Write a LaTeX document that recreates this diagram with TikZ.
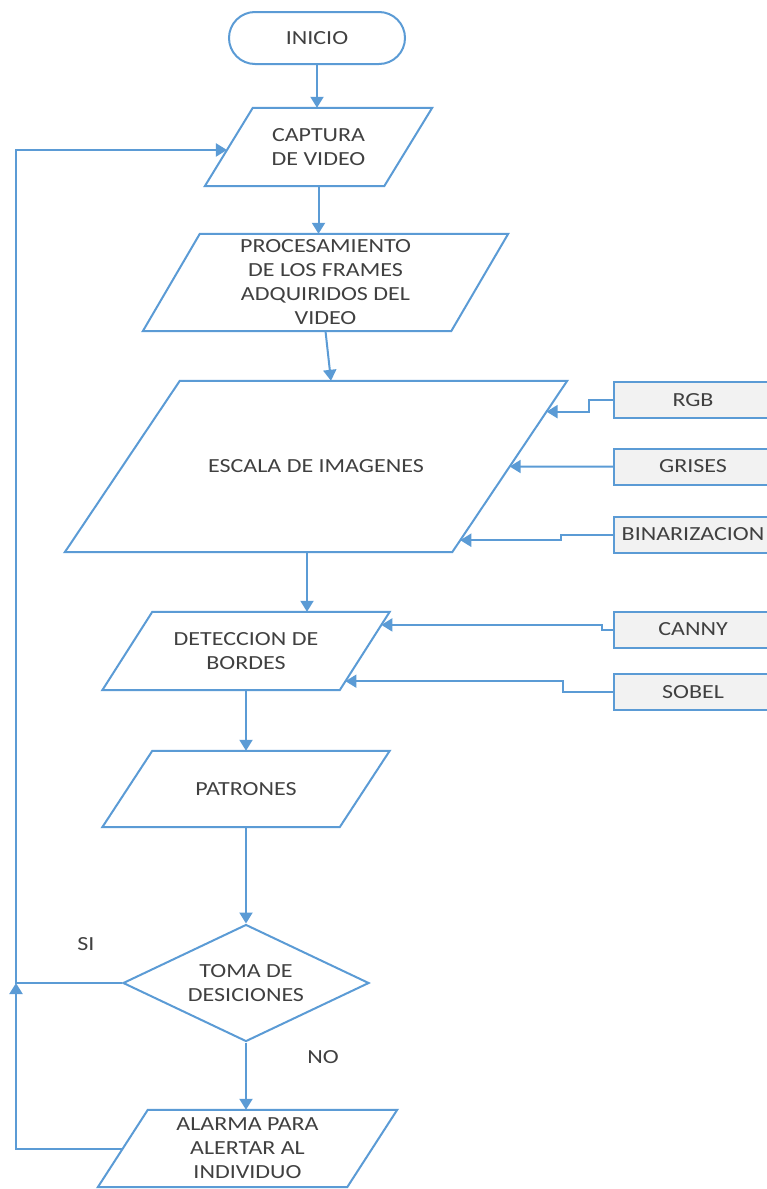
\documentclass[tikz,border=0pt]{standalone}
\usepackage{fontspec}
\setmainfont{Carlito}[FakeStretch=1.2]
\usetikzlibrary{shapes.geometric,calc,arrows.meta}
\definecolor{flowblue}{HTML}{5B9BD5}
\definecolor{boxgray}{HTML}{F2F2F2}
\definecolor{inkgray}{HTML}{404040}

% slanted input/output box: name, centre, width, height, slant, text
\newcommand\slantbox[6]{%
  \node[flowtext, minimum width=#3pt, minimum height=#4pt] (#1) at (#2) {#6};
  \coordinate (#1-nw) at ($(#1.north west)+(#5,0)$);
  \coordinate (#1-ne) at (#1.north east);
  \coordinate (#1-se) at ($(#1.south east)+(-#5,0)$);
  \coordinate (#1-sw) at (#1.south west);
  \draw[flowline] (#1-nw) -- (#1-ne) -- (#1-se) -- (#1-sw) -- cycle;
}

\begin{document}
\begin{tikzpicture}[x=1pt,y=-1pt,
  flowline/.style={draw=flowblue, line width=2pt, line join=miter},
  flowarrow/.style={flowline, -{Triangle[width=13pt,length=11pt]}},
  flowtext/.style={text=inkgray, font=\fontsize{20}{24}\selectfont, align=center, inner sep=0pt},
  sidebox/.style={flowtext, draw=flowblue, fill=boxgray, line width=2pt,
                  minimum width=158pt, minimum height=36pt},
  ]
\useasboundingbox (0,0) rectangle (766,1189);

% main column
\node[flowtext, draw=flowblue, line width=2pt, rounded corners=26pt,
      minimum width=176pt, minimum height=52pt] (ini) at (317,38) {INICIO};
\slantbox{cap}{318.5,147}{227}{78}{48}{CAPTURA\\DE VIDEO}
\slantbox{proc}{325.5,282.5}{365}{97}{57}{PROCESAMIENTO\\DE LOS FRAMES\\ADQUIRIDOS DEL\\VIDEO}
\slantbox{esc}{316,466.5}{502}{171}{115}{ESCALA DE IMAGENES}
\slantbox{det}{246,651}{287}{78}{50}{DETECCION DE\\BORDES}
\slantbox{pat}{246,789}{287}{76}{50}{PATRONES}
\node[flowtext, diamond, aspect=2.1, draw=flowblue, line width=2pt,
      minimum width=246pt, minimum height=117pt] (dec) at (246,983) {TOMA DE\\DESICIONES};
\slantbox{alm}{247.5,1148.5}{299}{77}{50}{ALARMA PARA\\ALERTAR AL\\INDIVIDUO}

% option boxes on the right
\node[sidebox] (rgb) at (693,400) {RGB};
\node[sidebox] (gri) at (693,466.5) {GRISES};
\node[sidebox] (bin) at (693,534.5) {BINARIZACION};
\node[sidebox] (can) at (693,629.5) {CANNY};
\node[sidebox] (sob) at (693,692) {SOBEL};

% branch labels
\node[flowtext] (si) at (86,944) {SI};
\node[flowtext] (no) at (323,1057) {NO};

% main flow
\draw[flowarrow] (ini.south) -- (ini.south |- cap.north);
\draw[flowarrow] (cap.south) -- (cap.south |- proc.north);
\draw[flowarrow] (proc.south) -- ($(esc.north)+(15,0)$);
\coordinate (escout) at ($(esc.south)+(-9,0)$);
\draw[flowarrow] (escout) -- (escout |- det.north);
\draw[flowarrow] (det.south) -- (pat.north);
\draw[flowarrow] (pat.south) -- (dec.north);
\draw[flowarrow] (dec.south) -- (dec.south |- alm.north);

% inputs to the image scale step
\coordinate (rgbin) at ($(esc-ne)!0.18!(esc-se)$);
\coordinate (griin) at ($(esc-ne)!0.5!(esc-se)$);
\coordinate (binin) at ($(esc-ne)!0.93!(esc-se)$);
\draw[flowarrow] (rgb.west) -- ++(-24,0) |- (rgbin);
\draw[flowarrow] (gri.west) -- (griin);
\draw[flowarrow] (bin.west) -- ++(-52,0) |- (binin);

% inputs to edge detection
\coordinate (canin) at ($(det-ne)!0.167!(det-se)$);
\coordinate (sobin) at ($(det-ne)!0.885!(det-se)$);
\draw[flowarrow] (can.west) -- ++(-11,0) |- (canin);
\draw[flowarrow] (sob.west) -- ++(-50,0) |- (sobin);

% return loop on the left
\coordinate (rail) at (16,0);
\coordinate (capin) at ($(cap-nw)!0.538!(cap-sw)$);
\coordinate (almout) at ($(alm-nw)!0.506!(alm-sw)$);
\draw[flowarrow] (dec.west) -- (dec.west -| rail) |- (capin);
\draw[flowarrow] (almout) -- (almout -| rail) -- (dec.west -| rail);
\end{tikzpicture}
\end{document}
